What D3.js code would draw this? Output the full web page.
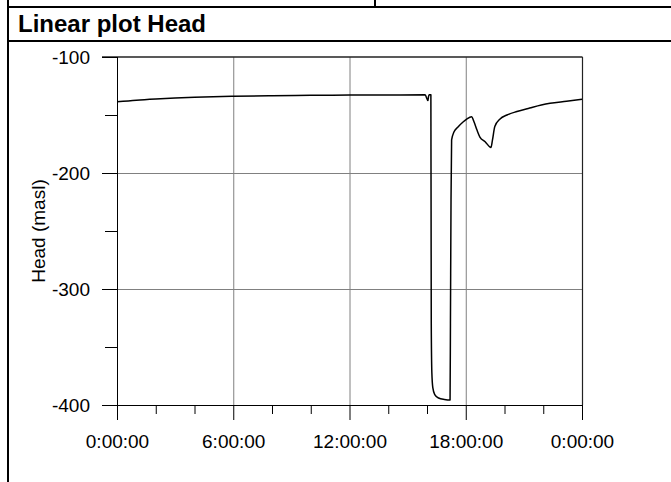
<!DOCTYPE html>
<html>
<head>
<meta charset="utf-8">
<script src="https://cdn.jsdelivr.net/npm/d3@7"></script>
<style>
  html, body { margin: 0; padding: 0; background: #fff; }
  svg { display: block; font-family: "Liberation Sans", Arial, sans-serif; }
</style>
</head>
<body>
<svg id="chart" width="671" height="482"></svg>
<script>
// Elapsed time (hours since midnight) and measured head (masl)
const hours = [
  0, 1, 2, 3, 4, 6, 8, 10, 12, 14, 15.9, 16.05, 16.08, 16.12, 16.2,
  16.22, 16.25, 16.3, 16.4, 16.6, 16.9, 17.19,
  17.21, 17.24, 17.27, 17.39, 17.6, 17.86, 18.05, 18.3,
  18.43, 18.58, 18.73, 19.0, 19.3,
  19.38, 19.5, 19.77, 20.13, 20.64, 21.3, 21.9, 22.35, 23.2, 24
];
const head = [
  -138.6, -137.2, -136.2, -135.4, -134.8, -133.9, -133.3, -133.0, -132.8, -132.7, -132.6, -137.5, -134.0, -132.6, -132.6,
  -330, -372, -385, -391, -394, -395.2, -395.7,
  -330, -223, -171.5, -164.7, -160.3, -156, -153.5, -151.5,
  -156, -163, -169, -173, -178,
  -171.5, -160, -153.4, -150, -147, -144, -141.4, -139.9, -138.2, -136.5
];

// Axis ticks
const xMajor = [0, 6, 12, 18, 24];
const xMinor = [2, 4, 8, 10, 14, 16, 20, 22];
const yMajor = [-100, -200, -300, -400];
const yMinor = [-150, -250, -350];

const svg = d3.select("#chart");
const W = 671, H = 482;

// Page frame and header
svg.append("line").attr("x1", 8).attr("x2", 8).attr("y1", 0).attr("y2", H)
  .attr("stroke", "#000").attr("stroke-width", 2);
svg.append("line").attr("x1", 375).attr("x2", 375).attr("y1", 0).attr("y2", 7)
  .attr("stroke", "#000").attr("stroke-width", 2);
svg.append("line").attr("x1", 8).attr("x2", W).attr("y1", 7).attr("y2", 7)
  .attr("stroke", "#000").attr("stroke-width", 2);
svg.append("line").attr("x1", 8).attr("x2", W).attr("y1", 41).attr("y2", 41)
  .attr("stroke", "#000").attr("stroke-width", 2);
svg.append("text").attr("x", 18).attr("y", 32)
  .attr("font-size", 24).attr("font-weight", "bold").attr("fill", "#000")
  .text("Linear plot Head");

// Plot area
const x = d3.scaleLinear().domain([0, 24]).range([117, 582]);
const y = d3.scaleLinear().domain([-400, -100]).range([405, 57]);

// Grid
const grid = svg.append("g").attr("stroke", "#808080").attr("stroke-width", 1);
grid.selectAll("line.vx").data(xMajor.slice(1, -1)).join("line")
  .attr("x1", d => x(d) + 0.5).attr("x2", d => x(d) + 0.5)
  .attr("y1", y(-100)).attr("y2", y(-400));
grid.selectAll("line.hy").data(yMajor.slice(1, -1)).join("line")
  .attr("y1", d => y(d) + 0.5).attr("y2", d => y(d) + 0.5)
  .attr("x1", x(0)).attr("x2", x(24));

// Top and right frame edges
svg.append("line").attr("x1", x(0) - 15).attr("x2", x(24) + 0.5)
  .attr("y1", y(-100)).attr("y2", y(-100)).attr("stroke", "#222").attr("stroke-width", 1.5);
svg.append("line").attr("x1", x(24) + 0.5).attr("x2", x(24) + 0.5)
  .attr("y1", y(-100)).attr("y2", y(-400)).attr("stroke", "#222").attr("stroke-width", 1.2);

const fmt = d => (d % 24) + ":00:00";
const textFont = "Liberation Sans, Arial, sans-serif";

// X axis
const xAxis = d3.axisBottom(x).tickValues(xMajor).tickFormat(fmt).tickSize(15).tickPadding(15);
const gx = svg.append("g").attr("transform", `translate(0,${y(-400)})`).call(xAxis);
gx.selectAll("g.xminor").data(xMinor).join("line")
  .attr("x1", d => x(d) + 0.5).attr("x2", d => x(d) + 0.5).attr("y1", 0).attr("y2", 9)
  .attr("stroke", "#000");

// Y axis
const yAxis = d3.axisLeft(y).tickValues(yMajor).tickFormat(d => String(d)).tickSize(15).tickPadding(12);
const gy = svg.append("g").attr("transform", `translate(${x(0)},0)`).call(yAxis);
gy.selectAll("g.yminor").data(yMinor).join("line")
  .attr("x1", -12).attr("x2", 0).attr("y1", d => y(d) + 0.5).attr("y2", d => y(d) + 0.5)
  .attr("stroke", "#000");

[gx, gy].forEach(g => {
  g.select(".domain").attr("stroke", "#000");
  g.selectAll(".tick line").attr("stroke", "#000");
  g.selectAll(".tick text").attr("fill", "#000").attr("font-size", 19)
    .attr("font-family", textFont);
});
gx.select(".domain").attr("d", `M${x(0)},0.5H${x(24)}`);
gy.select(".domain").attr("d", `M0.5,${y(-100)}V${y(-400)}`);

// Axis title
svg.append("text")
  .attr("transform", `translate(45,${(y(-100) + y(-400)) / 2}) rotate(-90)`)
  .attr("text-anchor", "middle").attr("font-size", 19).attr("fill", "#000")
  .text("Head (masl)");

// Head curve
const pts = hours.map((h, i) => [h, head[i]]);
svg.append("path").datum(pts)
  .attr("fill", "none").attr("stroke", "#000").attr("stroke-width", 1.5)
  .attr("stroke-linejoin", "round")
  .attr("d", d3.line().x(d => x(d[0])).y(d => y(d[1])).curve(d3.curveMonotoneX));
</script>
</body>
</html>
